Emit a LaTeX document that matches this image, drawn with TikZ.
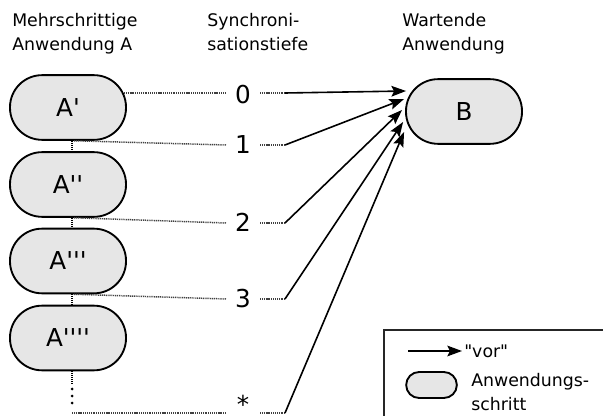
\documentclass[tikz,border=0pt]{standalone}
\usepackage{fontspec}
\setmainfont{DejaVu Sans}[Ligatures=TeXOff]
\usetikzlibrary{arrows.meta,calc,backgrounds}
\definecolor{stepfill}{HTML}{E6E6E6}
\begin{document}
\begin{tikzpicture}[x=0.75pt,y=-0.75pt,
  stepbox/.style={draw=black, line width=1.4pt, fill=stepfill, rounded corners=24pt,
    minimum width=87pt, minimum height=48.5pt, inner sep=0pt,
    font=\fontsize{18.5}{22}\selectfont},
  hdr/.style={anchor=base west, inner sep=0pt, font=\fontsize{13}{15}\selectfont},
  num/.style={inner sep=0pt, font=\fontsize{18.5}{22}\selectfont},
  dotl/.style={line width=1.1pt, dash pattern=on 0.8pt off 0.6pt, black!75},
  dotv/.style={line width=1.3pt, dash pattern=on 0.75pt off 0.75pt, black},
  arr/.style={line width=1.2pt, -{Stealth[length=11pt,width=8pt,inset=2pt]}},
]
\useasboundingbox (0,0) rectangle (603,416);

% headers
\node[hdr] (h1a) at (12,27) {Mehrschrittige};
\node[hdr] (h1b) at (12,51) {Anwendung A};
\node[hdr] (h2a) at (207,27) {Synchroni-};
\node[hdr] (h2b) at (207,51) {sationstiefe};
\node[hdr] (h3a) at (402,27) {Wartende};
\node[hdr] (h3b) at (402,51) {Anwendung};

% steps
\node[stepbox] (A1) at (68,107.5) {A'};
\node[stepbox] (A2) at (68,184.5) {A''};
\node[stepbox] (A3) at (68,261) {A'''};
\node[stepbox] (A4) at (68,338) {A''''};
\node[stepbox] (B) at (464,111.5) {B};

% depth labels
\node[num] (n0) at (243,95) {0};
\node[num] (n1) at (243,145) {1};
\node[num] (n2) at (243,222) {2};
\node[num] (n3) at (243,299) {3};
\node[num] (n4) at (243,404) {*};

% line coordinates
\foreach \i/\y in {0/93,1/145,2/223,3/299,4/413}{
  \coordinate (l\i) at (226,\y);
  \coordinate (r\i) at (260,\y);
  \coordinate (s\i) at (285,\y);
}
\coordinate (v4) at (72,384);

\begin{pgfonlayer}{background}
  \draw[dotl] (A1.center |- l0) -- (l0);
\end{pgfonlayer}

% vertical connectors between steps
\draw[dotv] ($(A1.south)+(4,0)$) -- ($(A2.north)+(4,0)$);
\draw[dotv] ($(A2.south)+(4,0)$) -- ($(A3.north)+(4,0)$);
\draw[dotv] ($(A3.south)+(4,0)$) -- ($(A4.north)+(4,0)$);
\draw[dotv] ($(A4.south)+(4,0)$) -- (v4);
\foreach \yy in {389,396,403}{\fill[black] (72,\yy) circle[radius=1.5];}

% horizontal dotted lines
\draw[dotl] ($(A1.south)+(6,0)$ |- l1) -- (l1);
\draw[dotl] ($(A2.south)+(6,0)$ |- l2) -- (l2);
\draw[dotl] ($(A3.south)+(6,0)$ |- l3) -- (l3);
\draw[dotl] (v4 |- l4) -- (l4);
\foreach \i in {0,...,4}{\draw[dotl] (r\i) -- (s\i);}

% arrows to B
\draw[arr] (s0) -- ($(B.west)+(1,-20.5)$);
\draw[arr] (s1) -- ($(B.west)+(-1,-12.5)$);
\draw[arr] (s2) -- ($(B.west)+(-3,-1.5)$);
\draw[arr] (s3) -- ($(B.west)+(-2,10.5)$);
\draw[arr] (s4) -- ($(B.west)+(-1,20.5)$);

% legend
\begin{scope}
  \clip (0,0) rectangle (603,416);
  \draw[line width=1.1pt, black!85] (384,330) rectangle (640,450);
\end{scope}
\coordinate (la) at (408,351);
\coordinate (lb) at (462,351);
\draw[arr] (la) -- (lb);
\node[hdr, anchor=west] (lvor) at (464,351) {"vor"};
\node[draw=black, line width=1.4pt, fill=stepfill, rounded corners=9.7pt,
  minimum width=38pt, minimum height=19.5pt, inner sep=0pt] (lstep) at (431.5,385) {};
\node[hdr] (lt1) at (471,387) {Anwendungs-};
\node[hdr] (lt2) at (471,411) {schritt};
\end{tikzpicture}
\end{document}
